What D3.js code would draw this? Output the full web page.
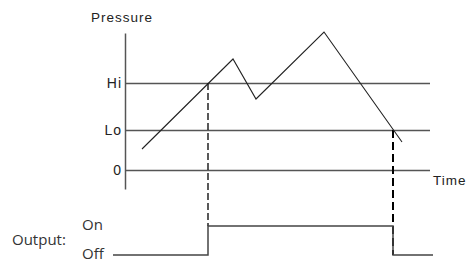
<!DOCTYPE html>
<html>
<head>
<meta charset="utf-8">
<script src="https://cdn.jsdelivr.net/npm/d3@7"></script>
<style>
  body { margin: 0; background: #fff; }
  .lbl { font-family: "Liberation Sans", Arial, sans-serif; font-size: 13.5px; letter-spacing: 1px; fill: #222; }
  .out { font-family: "Open Sans", sans-serif; font-size: 15px; fill: #333; }
</style>
</head>
<body>
<script>
// Pressure trace (time units, pressure units)
var pressureTime = [17, 108, 131, 199, 277];
var pressureValue = [21, 111, 71, 138, 28];

// Thresholds shown on the axis
var levelNames = ["0", "Lo", "Hi"];
var levelValues = [0, 40, 87];

// Output switching (step after)
var outputTime = [-12, 83, 268, 308];
var outputState = [0, 1, 0, 0];
var stateNames = ["Off", "On"];

var svgwidth = 467,
    svgheight = 262;

var svg = d3.select("body").append("svg")
    .attr("width", svgwidth)
    .attr("height", svgheight);

//Scales
var x = d3.scaleLinear().domain([0, 305]).range([125, 430]),
    y = d3.scaleLinear().domain([-19, 137]).range([189, 33]),
    yOut = d3.scaleLinear().domain([0, 1]).range([255, 226]);

//Axis with threshold grid lines
var axis = svg.append("g")
    .attr("transform", "translate(" + x(0) + ",0)")
    .call(d3.axisLeft(y)
        .tickValues(levelValues)
        .tickFormat(function(d, i) { return levelNames[i]; })
        .tickSizeInner(-(x(305) - x(0)))
        .tickSizeOuter(0)
        .tickPadding(3));
axis.select(".domain").attr("stroke", "#555").attr("stroke-width", 1.5);
axis.selectAll(".tick line").attr("stroke", "#555").attr("stroke-width", 1.5);
axis.selectAll(".tick text")
    .style("font-family", "'Liberation Sans', Arial, sans-serif")
    .style("font-size", "14px")
    .style("letter-spacing", "1px")
    .style("fill", "#222");

svg.append("text").attr("class", "lbl")
    .attr("x", 91).attr("y", 22).text("Pressure");
svg.append("text").attr("class", "lbl")
    .attr("x", 433).attr("y", 185).text("Time");

//Dashed switch lines
svg.append("line")
    .attr("x1", x(outputTime[1])).attr("x2", x(outputTime[1]))
    .attr("y1", y(levelValues[2])).attr("y2", yOut(1))
    .attr("stroke", "#000").attr("stroke-width", 1.3)
    .attr("stroke-dasharray", "7,3");
svg.append("line")
    .attr("x1", x(outputTime[2])).attr("x2", x(outputTime[2]))
    .attr("y1", y(levelValues[1])).attr("y2", yOut(0))
    .attr("stroke", "#000").attr("stroke-width", 2)
    .attr("stroke-dasharray", "8,4");

//Pressure line
var pressure = pressureTime.map(function(t, i) { return [t, pressureValue[i]]; });
svg.append("path")
    .datum(pressure)
    .attr("fill", "none")
    .attr("stroke", "#222")
    .attr("stroke-width", 1.1)
    .attr("d", d3.line()
        .x(function(d) { return x(d[0]); })
        .y(function(d) { return y(d[1]); }));

//Output step line
var output = outputTime.map(function(t, i) { return [t, outputState[i]]; });
svg.append("path")
    .datum(output)
    .attr("fill", "none")
    .attr("stroke", "#444")
    .attr("stroke-width", 1.5)
    .attr("d", d3.line()
        .curve(d3.curveStepAfter)
        .x(function(d) { return x(d[0]); })
        .y(function(d) { return yOut(d[1]); }));

//Output labels
svg.append("text").attr("class", "out")
    .attr("x", 12).attr("y", 245).text("Output:");
svg.selectAll(".state")
    .data(stateNames)
    .enter().append("text")
    .attr("class", "out state")
    .attr("x", 82)
    .attr("y", function(d, i) { return yOut(i) + 4; })
    .text(function(d) { return d; });
</script>
</body>
</html>
